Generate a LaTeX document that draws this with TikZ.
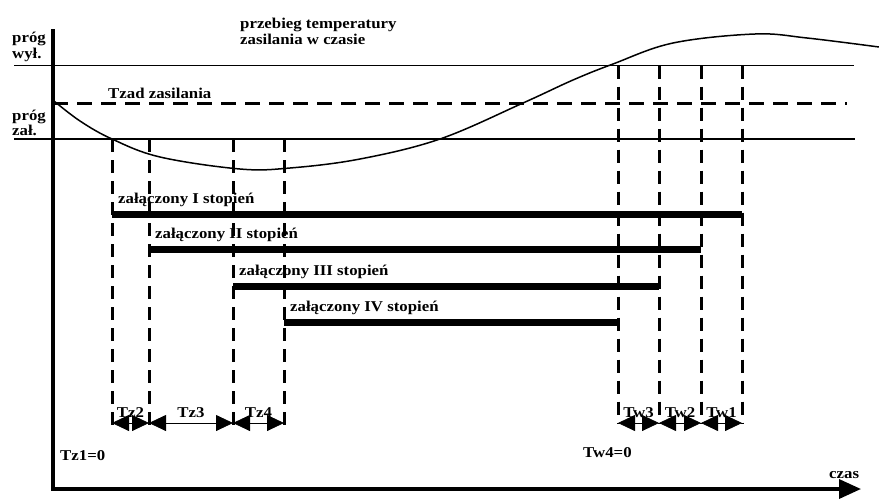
\documentclass[tikz,border=0pt]{standalone}
\usepackage{fontspec}
\setmainfont[FakeStretch=1.12]{Liberation Serif}
\usetikzlibrary{arrows.meta}

\begin{document}
\begin{tikzpicture}[x=1pt, y=-1pt,
	lbl/.style={font=\fontsize{15}{16}\selectfont\bfseries, inner sep=0pt, anchor=base west},
	thr/.style={line width=1.5pt},
	setline/.style={line width=3pt, dash pattern=on 15pt off 9pt},
	guide/.style={line width=3pt, dash pattern=on 13pt off 8pt},
	stage/.style={line width=7pt},
	span/.style={line width=0.8pt, {Triangle[length=17pt,width=16pt]}-{Triangle[length=17pt,width=16pt]}}]
	\useasboundingbox (0,0) rectangle (879,499);
	\coordinate (ytop) at (53,29);
	\coordinate (origin) at (53,489);
	\coordinate (xend) at (861,489);
	\draw[line width=3.5pt, -{Triangle[length=22pt,width=19pt]}] (ytop) -- (origin) -- (xend);
	\draw[thr] (14,65.5) -- (854,65.5);
	\draw[thr] (14,139) -- (855,139);
	\draw[setline] (53,103) -- (847,103);
	\draw[thr] plot[smooth, tension=0.6] coordinates {(54,101) (80,121) (112,139) (160,157) (240,169) (290,168) (360,159) (440,139) (523,103) (573,80) (613,64) (673,43) (755,34) (807,38) (879,47)};
	\foreach \x in {112,149,233,284} \draw[guide] (\x,139) -- (\x,427);
	\foreach \x in {618,659,701,742} \draw[guide] (\x,65.5) -- (\x,423);
	\foreach \s/\e/\y/\r in {112/742/214/I, 149/701/249/II, 233/659/286/III, 284/618/322/IV} {
		\draw[stage] (\s,\y) -- (\e,\y);
		\node[lbl] (st\r) at (\s+6,\y-11) {załączony \r{} stopień};
	}
	\foreach \n/\x in {z1/112, z2/149, z3/233, z4/284, w4/618, w3/659, w2/701, w1/742} \coordinate (\n) at (\x,423);
	\foreach \a/\b/\t in {z1/z2/Tz2, z2/z3/Tz3, z3/z4/Tz4, w4/w3/Tw3, w3/w2/Tw2, w2/w1/Tw1}
		\draw[span] (\a) -- node[lbl, anchor=base, yshift=6pt] {\t} (\b);
	\node[lbl] (offA) at (12,42) {próg};
	\node[lbl] (offB) at (12,58) {wył.};
	\node[lbl] (onA) at (12,120) {próg};
	\node[lbl] (onB) at (12,135) {zał.};
	\node[lbl] (titleA) at (240,28) {przebieg temperatury};
	\node[lbl] (titleB) at (240,44) {zasilania w czasie};
	\node[lbl] (setpt) at (108,98) {Tzad zasilania};
	\node[lbl] (tz1) at (60,460) {Tz1=0};
	\node[lbl] (tw4) at (583,457) {Tw4=0};
	\node[lbl] (taxis) at (829,478) {czas};
\end{tikzpicture}
\end{document}
